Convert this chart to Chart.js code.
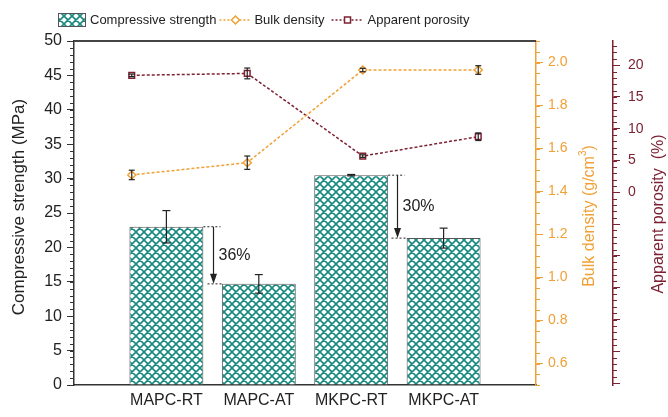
<!DOCTYPE html>
<html>
<head>
<meta charset="utf-8">
<script src="https://cdn.jsdelivr.net/npm/chart.js@4.4.0/dist/chart.umd.min.js"></script>
<style>
  html, body { margin: 0; padding: 0; background: #fff; }
  #wrap { width: 668px; height: 417px; }
</style>
</head>
<body>
<div id="wrap"><canvas id="chart" width="668" height="417"></canvas></div>
<script>
const categories = ['MAPC-RT', 'MAPC-AT', 'MKPC-RT', 'MKPC-AT'];
const strength = [23.0, 14.7, 30.5, 21.35];
const strengthErr = [2.35, 1.35, 0.1, 1.45];
const density = [1.477, 1.534, 1.965, 1.965];
const densityErr = [0.022, 0.031, 0.008, 0.02];
const porosity = [18.4, 18.7, 5.7, 8.75];
const porosityErr = [0.2, 0.85, 0.2, 0.6];

const strengthTicks = [0, 5, 10, 15, 20, 25, 30, 35, 40, 45, 50];
const densityTicks = [0.6, 0.8, 1.0, 1.2, 1.4, 1.6, 1.8, 2.0];
const porosityTicks = [-30, -25, -20, -15, -10, -5, 0, 5, 10, 15, 20];

const TEAL = '#178b80';
const ORANGE = '#f0a035';
const MAROON = '#7c2233';
const INK = '#222';
const FONT = '"Liberation Sans", Arial, sans-serif';

// bars sit on whole numbers, the two property series on their own evenly spaced slots
const barPos = categories.map((_, i) => i + 1);
const linePos = categories.map((_, i) => (i + 0.5) * 1.25);

const canvas = document.getElementById('chart');
const ctx = canvas.getContext('2d');

function makeHatch() {
    const s = 8;
    const c = document.createElement('canvas');
    c.width = s;
    c.height = s;
    const g = c.getContext('2d');
    g.fillStyle = '#fff';
    g.fillRect(0, 0, s, s);
    g.strokeStyle = TEAL;
    g.lineWidth = 1.6;
    g.beginPath();
    for (const o of [-s, 0, s]) {
        g.moveTo(o, 0); g.lineTo(o + s, s);
        g.moveTo(o, s); g.lineTo(o + s, 0);
    }
    g.stroke();
    return ctx.createPattern(c, 'repeat');
}
const hatch = makeHatch();

const fixedTicks = values => axis => { axis.ticks = values.map(v => ({ value: v })); };
const fixedWidth = w => axis => { axis.width = w; };

function line(c, x1, y1, x2, y2) {
    c.beginPath();
    c.moveTo(x1, y1);
    c.lineTo(x2, y2);
    c.stroke();
}

// small unlabeled ticks between the major ones, plus the top frame line
const minorTicks = {
    id: 'minorTicks',
    afterDraw(chart) {
        const c = chart.ctx;
        const specs = [
            { id: 'y', step: 1, color: '#333', dir: -1 },
            { id: 'y1', step: 0.05, color: ORANGE, dir: 1 },
            { id: 'y2', step: 1, color: MAROON, dir: 1 }
        ];
        c.save();
        c.lineWidth = 1;
        specs.forEach(s => {
            const sc = chart.scales[s.id];
            const x0 = s.dir < 0 ? sc.right : sc.left;
            c.strokeStyle = s.color;
            for (let n = Math.ceil(sc.min / s.step - 1e-6); n * s.step <= sc.max + 1e-6; n++) {
                const y = Math.round(sc.getPixelForValue(n * s.step)) + 0.5;
                line(c, x0, y, x0 + s.dir * 4, y);
            }
        });
        const a = chart.chartArea;
        c.strokeStyle = '#444';
        c.lineWidth = 2;
        line(c, a.left, a.top, a.right, a.top);
        c.restore();
    }
};

const errorBars = {
    id: 'errorBars',
    afterDatasetsDraw(chart) {
        const c = chart.ctx;
        c.save();
        c.strokeStyle = INK;
        c.lineWidth = 1.2;
        chart.data.datasets.forEach((ds, di) => {
            if (!ds.errors) return;
            const meta = chart.getDatasetMeta(di);
            const ys = chart.scales[meta.yAxisID];
            meta.data.forEach((el, i) => {
                const v = ds.data[i].y;
                const e = ds.errors[i];
                const top = ys.getPixelForValue(v + e);
                const bot = ys.getPixelForValue(v - e);
                const h = ds.capHalf;
                line(c, el.x, top, el.x, bot);
                line(c, el.x - h, top, el.x + h, top);
                line(c, el.x - h, bot, el.x + h, bot);
            });
        });
        c.restore();
    }
};

// strength loss arrows between paired bars
const drops = [[0, 1], [2, 3]];
const dropArrows = {
    id: 'dropArrows',
    afterDatasetsDraw(chart) {
        const c = chart.ctx;
        const meta = chart.getDatasetMeta(0);
        const ys = chart.scales.y;
        c.save();
        c.strokeStyle = INK;
        c.fillStyle = INK;
        drops.forEach(([a, b]) => {
            const barA = meta.data[a];
            const barB = meta.data[b];
            const rightA = barA.x + barA.width / 2;
            const leftB = barB.x - barB.width / 2;
            const ax = Math.round((rightA + leftB) / 2) + 0.5;
            const yA = ys.getPixelForValue(strength[a]);
            const yB = ys.getPixelForValue(strength[b]);
            c.lineWidth = 1;
            c.setLineDash([2, 2]);
            line(c, rightA, yA, ax + 7, yA);
            line(c, ax - 6, yB, leftB, yB);
            c.setLineDash([]);
            c.lineWidth = 1.2;
            line(c, ax, yA, ax, yB - 8);
            c.beginPath();
            c.moveTo(ax - 3.5, yB - 10);
            c.lineTo(ax + 3.5, yB - 10);
            c.lineTo(ax, yB);
            c.closePath();
            c.fill();
            const pct = Math.round((strength[a] - strength[b]) / strength[a] * 100);
            c.font = `16px ${FONT}`;
            c.textAlign = 'left';
            c.textBaseline = 'middle';
            c.fillText(pct + '%', ax + 5, (yA + yB) / 2);
        });
        c.restore();
    }
};

function drawSample(c, x, y, w, color, style) {
    c.save();
    c.strokeStyle = color;
    c.lineWidth = 1.5;
    c.setLineDash([2, 2]);
    line(c, x, y, x + w, y);
    c.setLineDash([]);
    c.fillStyle = '#fff';
    const m = x + w / 2;
    c.beginPath();
    if (style === 'rectRot') {
        c.moveTo(m, y - 4); c.lineTo(m + 4, y); c.lineTo(m, y + 4); c.lineTo(m - 4, y);
        c.closePath();
    } else {
        c.rect(m - 3, y - 3, 6, 6);
    }
    c.fill();
    c.stroke();
    c.restore();
}

// legend row and the rotated axis titles
const legendAndTitles = {
    id: 'legendAndTitles',
    afterDraw(chart) {
        const c = chart.ctx;
        c.save();
        c.font = `13px ${FONT}`;
        c.textBaseline = 'middle';
        c.textAlign = 'left';
        c.fillStyle = INK;
        const ly = 20;
        let x = 58;
        c.fillStyle = hatch;
        c.fillRect(x, ly - 7, 28, 14);
        c.strokeStyle = '#555';
        c.lineWidth = 1;
        c.strokeRect(x + 0.5, ly - 6.5, 27, 13);
        x += 32;
        c.fillStyle = INK;
        c.fillText('Compressive strength', x, ly);
        x += c.measureText('Compressive strength').width + 3;
        drawSample(c, x, ly, 32, ORANGE, 'rectRot');
        x += 35;
        c.fillStyle = INK;
        c.fillText('Bulk density', x, ly);
        x += c.measureText('Bulk density').width + 7;
        drawSample(c, x, ly, 32, MAROON, 'rect');
        x += 36;
        c.fillStyle = INK;
        c.fillText('Apparent porosity', x, ly);

        const a = chart.chartArea;
        const midY = (a.top + a.bottom) / 2;

        c.textAlign = 'center';
        c.save();
        c.translate(19, midY - 6);
        c.rotate(-Math.PI / 2);
        c.font = `17px ${FONT}`;
        c.fillStyle = INK;
        c.fillText('Compressive strength (MPa)', 0, 0);
        c.restore();

        // bulk density title with a superscript 3
        c.save();
        c.translate(590, midY + 3);
        c.rotate(-Math.PI / 2);
        c.fillStyle = ORANGE;
        c.textAlign = 'left';
        const main = `16px ${FONT}`;
        const sup = `10px ${FONT}`;
        c.font = main;
        const w1 = c.measureText('Bulk density (g/cm').width;
        const w3 = c.measureText(')').width;
        c.font = sup;
        const w2 = c.measureText('3').width;
        let tx = -(w1 + w2 + w3) / 2;
        c.font = main;
        c.fillText('Bulk density (g/cm', tx, 0);
        tx += w1;
        c.font = sup;
        c.fillText('3', tx, -7);
        tx += w2;
        c.font = main;
        c.fillText(')', tx, 0);
        c.restore();

        c.save();
        c.translate(659, midY + 1);
        c.rotate(-Math.PI / 2);
        c.font = `16px ${FONT}`;
        c.fillStyle = MAROON;
        c.fillText('Apparent porosity  (%)', 0, 0);
        c.restore();

        c.restore();
    }
};

new Chart(ctx, {
    type: 'bar',
    data: {
        datasets: [
            {
                label: 'Compressive strength',
                data: barPos.map((x, i) => ({ x, y: strength[i] })),
                errors: strengthErr,
                capHalf: 4,
                backgroundColor: hatch,
                borderColor: '#555',
                borderWidth: 1,
                categoryPercentage: 0.8,
                barPercentage: 1.0,
                yAxisID: 'y',
                order: 2
            },
            {
                type: 'line',
                label: 'Bulk density',
                data: linePos.map((x, i) => ({ x, y: density[i] })),
                errors: densityErr,
                capHalf: 3,
                borderColor: ORANGE,
                borderWidth: 1.5,
                borderDash: [3, 2],
                pointStyle: 'rectRot',
                pointRadius: 4,
                pointBorderWidth: 1.5,
                pointBackgroundColor: '#fff',
                pointBorderColor: ORANGE,
                yAxisID: 'y1',
                order: 1
            },
            {
                type: 'line',
                label: 'Apparent porosity',
                data: linePos.map((x, i) => ({ x, y: porosity[i] })),
                errors: porosityErr,
                capHalf: 3,
                borderColor: MAROON,
                borderWidth: 1.5,
                borderDash: [3, 2],
                pointStyle: 'rect',
                pointRadius: 4,
                pointBorderWidth: 1.5,
                pointBackgroundColor: '#fff',
                pointBorderColor: MAROON,
                yAxisID: 'y2',
                order: 1
            }
        ]
    },
    options: {
        responsive: false,
        animation: false,
        events: [],
        layout: { padding: { top: 41, left: 0, right: 0, bottom: 0 } },
        plugins: {
            legend: { display: false },
            tooltip: { enabled: false }
        },
        scales: {
            x: {
                type: 'linear',
                offset: false,
                min: 0,
                max: 5,
                afterBuildTicks: fixedTicks(barPos),
                afterFit: axis => { axis.height = 32; },
                grid: { display: false, drawTicks: false, offset: false },
                border: { color: '#333', width: 1.5 },
                ticks: {
                    autoSkip: false,
                    maxRotation: 0,
                    padding: 6,
                    color: INK,
                    font: { family: FONT, size: 16 },
                    callback: v => categories[v - 1]
                }
            },
            y: {
                position: 'left',
                min: 0,
                max: 50,
                afterBuildTicks: fixedTicks(strengthTicks),
                afterFit: fixedWidth(74),
                grid: { drawOnChartArea: false, tickLength: 7, color: '#333' },
                border: { color: '#333', width: 1.5 },
                ticks: {
                    autoSkip: false,
                    padding: 5,
                    color: INK,
                    font: { family: FONT, size: 16 }
                }
            },
            y1: {
                position: 'right',
                weight: 1,
                min: 0.5,
                max: 2.1,
                afterBuildTicks: fixedTicks(densityTicks),
                afterFit: fixedWidth(77),
                grid: { drawOnChartArea: false, tickLength: 7, color: ORANGE },
                border: { color: ORANGE, width: 1.5 },
                ticks: {
                    autoSkip: false,
                    padding: 5,
                    color: ORANGE,
                    font: { family: FONT, size: 14 },
                    callback: v => v.toFixed(1)
                }
            },
            y2: {
                position: 'right',
                weight: 2,
                min: -30.3,
                max: 23.8,
                afterBuildTicks: fixedTicks(porosityTicks),
                afterFit: fixedWidth(55),
                grid: { drawOnChartArea: false, tickLength: 7, color: MAROON },
                border: { color: MAROON, width: 1.5 },
                ticks: {
                    autoSkip: false,
                    padding: 8,
                    color: MAROON,
                    font: { family: FONT, size: 14 },
                    callback: v => (v >= 0 ? String(v) : '')
                }
            }
        }
    },
    plugins: [minorTicks, errorBars, dropArrows, legendAndTitles]
});
</script>
</body>
</html>
